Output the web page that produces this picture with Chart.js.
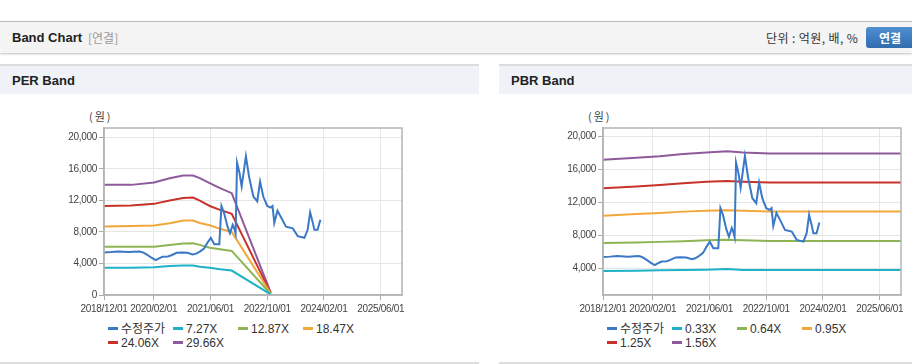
<!DOCTYPE html>
<html>
<head>
<meta charset="utf-8">
<script src="https://cdn.jsdelivr.net/npm/chart.js@4.4.1/dist/chart.umd.min.js"></script>
<style>
  body { margin: 0; width: 912px; height: 364px; overflow: hidden; background: #fff;
         font-family: 'Liberation Sans', Arial, 'Noto Sans CJK KR', sans-serif; position: relative; }
  .topbar { position: absolute; left: 0; top: 21px; width: 912px; height: 31px; background: #f4f4f4;
            border-top: 1px solid #b9b9b9; box-shadow: 0 1px 2px rgba(0,0,0,0.25); }
  .topbar .title { position: absolute; left: 12px; top: 8px; font-size: 13px; font-weight: bold; color: #222; }
  .topbar .sub { position: absolute; left: 88px; top: 9px; font-size: 12px; color: #999; font-family: 'Noto Sans CJK KR', sans-serif; line-height: 14px; }
  .topbar .unit { position: absolute; left: 766px; top: 9px; font-size: 12px; letter-spacing: 0.4px; color: #333; font-family: 'Noto Sans CJK KR', sans-serif; line-height: 14px; }
  .topbar .btn { position: absolute; left: 866px; top: 5px; width: 50px; height: 21px; border-radius: 3px;
                 background: linear-gradient(#4f8fd0, #2f6cb0); color: #fff; font-size: 12px; font-weight: bold;
                 font-family: 'Noto Sans CJK KR', sans-serif; line-height: 21px; text-indent: 13px; }
  .panel-head { position: absolute; top: 64px; height: 28px; background: #eff3f8; border-top: 2px solid #dcdcdc; }
  .panel-head span { position: absolute; left: 12px; top: 7px; font-size: 13px; font-weight: bold; color: #222; }
  .panel-foot { position: absolute; top: 362px; height: 2px; background: #dedede; }
  .unitlbl { position: absolute; top: 109px; font-size: 11px; letter-spacing: 2px; color: #444; font-family: 'Noto Sans CJK KR', sans-serif; line-height: 14px; }
  canvas { position: absolute; top: 95px; }
  .legend { position: absolute; top: 323px; display: grid; grid-template-columns: repeat(4, 65px); row-gap: 0; }
  .legend div { height: 13.5px; line-height: 13.5px; font-size: 12px; color: #333; white-space: nowrap;
                font-family: 'Liberation Sans', Arial, 'Noto Sans CJK KR', sans-serif; }
  .legend i { display: inline-block; width: 10px; height: 3px; margin-right: 3px; vertical-align: middle; position: relative; top: -1px; }
</style>
</head>
<body>
<div class="topbar">
  <span class="title">Band Chart</span>
  <span class="sub">[연결]</span>
  <span class="unit">단위 : 억원, 배, %</span>
  <span class="btn">연결</span>
</div>
<div class="panel-head" style="left:0;width:479px"><span>PER Band</span></div>
<div class="panel-head" style="left:499px;width:413px"><span>PBR Band</span></div>
<div class="panel-foot" style="left:0;width:479px"></div>
<div class="panel-foot" style="left:499px;width:413px"></div>
<span class="unitlbl" style="left:89px">(원)</span>
<span class="unitlbl" style="left:588px">(원)</span>
<canvas id="perChart" width="479" height="225" style="left:0"></canvas>
<canvas id="pbrChart" width="413" height="225" style="left:499px"></canvas>
<div class="legend" id="perLegend" style="left:108px"></div>
<div class="legend" id="pbrLegend" style="left:607px"></div>
<script>
// x values are months counted from 2018/12/01
const tickMonths = [0, 14, 30, 46, 62, 78]
const tickLabels = ['2018/12/01', '2020/02/01', '2021/06/01', '2022/10/01', '2024/02/01', '2025/06/01']

const priceMonths = [0, 2, 4, 7, 10, 11, 12, 13.5, 14.6, 15.5, 16.5, 18, 19, 20.5, 22, 23.5, 25, 26, 27, 28.2,
  29.2, 30.1, 31.1, 32.5, 33.1, 33.8, 34.8, 35.5, 36.3, 36.7, 37.1, 37.5, 38.2, 38.8, 40, 40.9, 42.1, 43.2,
  44, 44.9, 46, 47, 47.5, 48, 48.9, 49.9, 51.3, 53.2, 54.6, 56.5, 57.4, 58.1, 58.8, 59.3, 60.2, 61]
const priceValues = [5400, 5450, 5530, 5450, 5520, 5400, 5150, 4700, 4420, 4650, 4850, 4900, 5050, 5350, 5380, 5350, 5150, 5250, 5500, 5900,
  6660, 7250, 6450, 6450, 11300, 10500, 8700, 7850, 8900, 8470, 7800, 16800, 15500, 13770, 17600, 15000, 12500, 11900,
  14400, 12500, 11300, 11100, 11300, 9160, 10700, 9880, 8680, 8470, 7470, 7260, 8280, 10490, 9280, 8280, 8280, 9560]

const perMonths = [0, 7.7, 14.1, 18.5, 22.3, 25.1, 27, 29.8, 32.7, 36, 47]
const per727  = [3470, 3470, 3520, 3690, 3730, 3730, 3600, 3450, 3260, 3100, 75]
const per1287 = [6140, 6140, 6140, 6360, 6550, 6570, 6360, 6000, 5800, 5600, 130]
const per1847 = [8690, 8750, 8810, 9110, 9450, 9450, 9150, 8850, 8400, 8000, 185]
const per2406 = [11310, 11350, 11570, 11990, 12300, 12370, 11990, 11300, 10800, 10300, 240]
const per2966 = [13980, 13980, 14280, 14830, 15170, 15170, 14830, 14200, 13560, 12930, 300]

const pbrMonths = [0, 9.4, 16, 22.6, 29.2, 35, 39.5, 47, 84]
const pbr033 = [3720, 3760, 3800, 3840, 3880, 3960, 3850, 3830, 3830]
const pbr064 = [7100, 7160, 7230, 7320, 7420, 7480, 7440, 7350, 7350]
const pbr095 = [10370, 10580, 10700, 10880, 11000, 11060, 10990, 10900, 10900]
const pbr125 = [13710, 13910, 14080, 14300, 14470, 14580, 14480, 14380, 14380]
const pbr156 = [17140, 17380, 17560, 17820, 18020, 18150, 18020, 17900, 17900]

const colors = ['#3b78c6', '#1fb1c6', '#8db553', '#f2a73a', '#c9312b', '#8e5a9b']

function pts(xs, ys){
    return xs.map((x, i) => ({x: x, y: ys[i]}))
}

const boxPlugin = {
    id: 'box',
    beforeDraw(chart){
        // tighter tick text, the original uses a narrow font
        chart.ctx.letterSpacing = '-0.3px'
    },
    afterDraw(chart){
        const a = chart.chartArea, ctx = chart.ctx
        ctx.save()
        ctx.strokeStyle = '#b4b4b4'
        ctx.lineWidth = 1.5
        ctx.strokeRect(a.left, a.top, a.right - a.left, a.bottom - a.top)
        ctx.restore()
    }
}

function makeChart(id, legendId, bandMonths, bands, labels, yMin, yMax, yTicks, padRight){
    var datasets = [{label: '수정주가', data: pts(priceMonths, priceValues), borderColor: colors[0], order: 0}]
    bands.forEach((b, i) => {
        datasets.push({label: labels[i], data: pts(bandMonths, b), borderColor: colors[i + 1], order: 1})
    })
    datasets.forEach(d => { d.borderWidth = 2; d.pointRadius = 0; d.tension = 0; d.fill = false })

    const tickFont = {family: "'Liberation Sans', Arial", size: 10}
    new Chart(document.getElementById(id), {
        type: 'line',
        data: {datasets: datasets},
        options: {
            responsive: false,
            animation: false,
            devicePixelRatio: 1,
            layout: {padding: {left: 0, right: padRight, top: 33, bottom: 0}},
            plugins: {legend: {display: false}, tooltip: {enabled: false}},
            scales: {
                x: {
                    type: 'linear', min: 0, max: 84,
                    afterBuildTicks: s => { s.ticks = tickMonths.map(v => ({value: v})) },
                    afterFit: s => { s.height = 25 },
                    grid: {color: '#e6e6e6', tickColor: '#aaa', tickLength: 5},
                    border: {color: '#b4b4b4', width: 1.5},
                    ticks: {autoSkip: false, maxRotation: 0, padding: 3, color: '#444', font: tickFont,
                            callback: v => tickLabels[tickMonths.indexOf(v)]}
                },
                y: {
                    min: yMin, max: yMax,
                    afterBuildTicks: s => { s.ticks = yTicks.map(v => ({value: v})) },
                    afterFit: s => { s.width = 104 },
                    grid: {color: '#e6e6e6', tickColor: '#aaa', tickLength: 5},
                    border: {color: '#b4b4b4', width: 1.5},
                    ticks: {padding: 2, color: '#444', font: tickFont,
                            callback: v => v.toLocaleString('en-US')}
                }
            }
        },
        plugins: [boxPlugin]
    })

    var legend = document.getElementById(legendId)
    datasets.forEach(d => {
        var item = document.createElement('div')
        item.innerHTML = '<i style="background:' + d.borderColor + '"></i>' + d.label
        legend.appendChild(item)
    })
}

makeChart('perChart', 'perLegend', perMonths, [per727, per1287, per1847, per2406, per2966],
    ['7.27X', '12.87X', '18.47X', '24.06X', '29.66X'], 0, 21200, [0, 4000, 8000, 12000, 16000, 20000], 77)
makeChart('pbrChart', 'pbrLegend', pbrMonths, [pbr033, pbr064, pbr095, pbr125, pbr156],
    ['0.33X', '0.64X', '0.95X', '1.25X', '1.56X'], 820, 20970, [4000, 8000, 12000, 16000, 20000], 11)
</script>
</body>
</html>
